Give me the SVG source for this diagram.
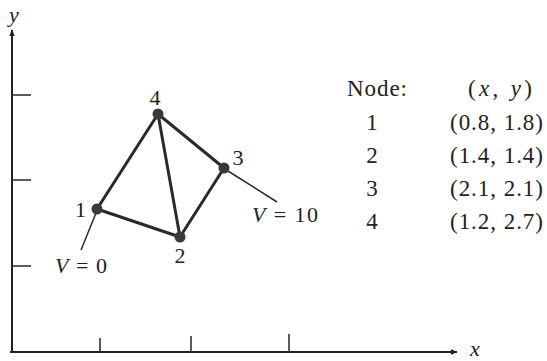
<svg xmlns="http://www.w3.org/2000/svg" width="547" height="361" viewBox="0 0 547 361">
<defs>
<style>
.t{font-family:"Liberation Serif","Times New Roman",serif;font-size:22px;fill:#222}
.tb{font-size:23px}
.i{font-style:italic}
.ax{stroke:#222;stroke-width:2;fill:none}
.tk{stroke:#333;stroke-width:1.6}
.e{stroke:#2a2a2a;stroke-width:3;stroke-linecap:round}
.ld{stroke:#2a2a2a;stroke-width:1.5}
.n{fill:#3a3a3a}
</style>
<marker id="ah" viewBox="0 0 10 10" refX="9" refY="5" markerWidth="7" markerHeight="7" markerUnits="userSpaceOnUse" orient="auto">
<path d="M0,1 L10,5 L0,9 z" fill="#222"/>
</marker>
</defs>
<rect width="547" height="361" fill="#fff"/>
<g id="axes">
<line class="ax" x1="12" y1="353" x2="12" y2="30" marker-end="url(#ah)"/>
<line class="ax" x1="10" y1="352" x2="457" y2="352" marker-end="url(#ah)"/>
<line class="tk" x1="12" y1="95" x2="31" y2="95"/>
<line class="tk" x1="12" y1="180" x2="31" y2="180"/>
<line class="tk" x1="12" y1="266" x2="31" y2="266"/>
<line class="tk" x1="100" y1="352" x2="100" y2="338"/>
<line class="tk" x1="191" y1="352" x2="191" y2="336"/>
<line class="tk" x1="289" y1="352" x2="289" y2="334"/>
<text class="t i" x="14" y="22" text-anchor="middle">y</text>
<text class="t i" x="475" y="356" text-anchor="middle">x</text>
</g>
<g id="connectors">
<line class="e" x1="97" y1="209" x2="158" y2="114"/>
<line class="e" x1="158" y1="114" x2="180" y2="237"/>
<line class="e" x1="158" y1="114" x2="224" y2="168"/>
<line class="e" x1="224" y1="168" x2="180" y2="237"/>
<line class="e" x1="97" y1="209" x2="180" y2="237"/>
<line class="ld" x1="96" y1="213" x2="81" y2="250"/>
<line class="ld" x1="228" y1="171" x2="277" y2="202"/>
</g>
<g id="node1"><circle class="n" cx="97" cy="209" r="5.5"/><text class="t" x="80.5" y="217" text-anchor="middle">1</text></g>
<g id="node2"><circle class="n" cx="180" cy="237" r="5.5"/><text class="t" x="180" y="263" text-anchor="middle">2</text></g>
<g id="node3"><circle class="n" cx="224" cy="168" r="5.5"/><text class="t" x="238" y="165" text-anchor="middle">3</text></g>
<g id="node4"><circle class="n" cx="158" cy="114" r="5.5"/><text class="t" x="155" y="105" text-anchor="middle">4</text></g>
<g id="v0"><text class="t" x="55" y="273" textLength="52" lengthAdjust="spacing"><tspan class="i">V</tspan> = 0</text></g>
<g id="v10"><text class="t" x="252" y="222" textLength="66" lengthAdjust="spacing"><tspan class="i">V</tspan> = 10</text></g>
<g id="table">
<text class="t tb" x="347" y="96" textLength="60" lengthAdjust="spacing">Node:</text>
<text class="t tb" x="468" y="96" textLength="64" lengthAdjust="spacing">(<tspan class="i">x</tspan>, <tspan class="i">y</tspan>)</text>
<text class="t tb" x="372" y="130" text-anchor="middle">1</text>
<text class="t tb" x="372" y="163" text-anchor="middle">2</text>
<text class="t tb" x="372" y="196" text-anchor="middle">3</text>
<text class="t tb" x="372" y="229" text-anchor="middle">4</text>
<text class="t tb" x="450" y="130" textLength="93" lengthAdjust="spacing">(0.8, 1.8)</text>
<text class="t tb" x="450" y="163" textLength="93" lengthAdjust="spacing">(1.4, 1.4)</text>
<text class="t tb" x="450" y="196" textLength="93" lengthAdjust="spacing">(2.1, 2.1)</text>
<text class="t tb" x="450" y="229" textLength="93" lengthAdjust="spacing">(1.2, 2.7)</text>
</g>
</svg>
